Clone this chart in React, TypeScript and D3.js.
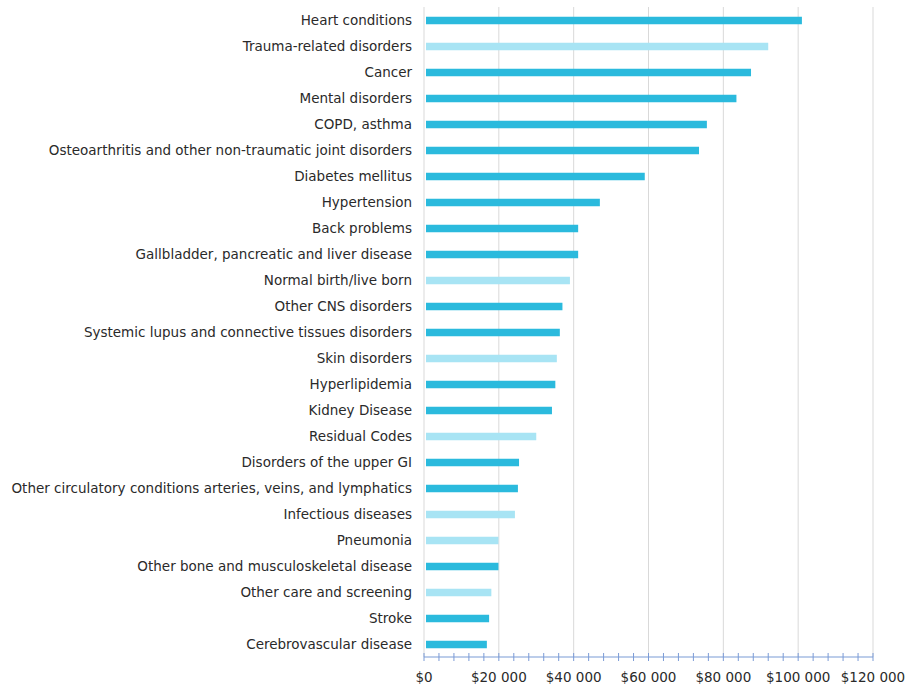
import React from "react";
import * as d3 from "d3";

const categories = [
  "Heart conditions",
  "Trauma-related disorders",
  "Cancer",
  "Mental disorders",
  "COPD, asthma",
  "Osteoarthritis and other non-traumatic joint disorders",
  "Diabetes mellitus",
  "Hypertension",
  "Back problems",
  "Gallbladder, pancreatic and liver disease",
  "Normal birth/live born",
  "Other CNS disorders",
  "Systemic lupus and connective tissues disorders",
  "Skin disorders",
  "Hyperlipidemia ",
  "Kidney Disease",
  "Residual Codes",
  "Disorders of the upper GI",
  "Other circulatory conditions arteries, veins, and lymphatics",
  "Infectious diseases",
  "Pneumonia",
  "Other bone and musculoskeletal disease",
  "Other care and screening",
  "Stroke",
  "Cerebrovascular disease",
];

const values = [
  101000, 92000, 87400, 83500, 75600, 73500, 59000, 47000, 41200, 41200,
  39000, 37000, 36300, 35500, 35100, 34200, 30000, 25400, 25100, 24300,
  19900, 19900, 18000, 17400, 16800,
];

const highlighted = [
  "Trauma-related disorders",
  "Normal birth/live born",
  "Skin disorders",
  "Residual Codes",
  "Infectious diseases",
  "Pneumonia",
  "Other care and screening",
];

const tickValues = [0, 20000, 40000, 60000, 80000, 100000, 120000];

const W = 907;
const H = 686;
const left = 424;
const right = 873;
const top = 7;
const bottom = 657;

export default function App() {
  const x = d3.scaleLinear().domain([0, 120000]).range([left, right]);
  const y = d3.scaleBand<string>().domain(categories).range([top, bottom]);
  const barH = 7.5;
  const minor = d3.range(0, 120001, 4000);
  const fmt = (v: number) => "$" + d3.format(",")(v).replace(/,/g, " ");
  const font = "DejaVu Sans, Verdana, sans-serif";

  return (
    <svg
      width={W}
      height={H}
      style={{ position: "absolute", left: 0, top: 0, background: "#fff" }}
    >
      {tickValues.map((t) => (
        <line
          key={"g" + t}
          x1={x(t)}
          x2={x(t)}
          y1={top}
          y2={bottom}
          stroke="#d9d9d9"
          strokeWidth={1}
        />
      ))}
      {categories.map((c, i) => {
        const cy = (y(c) ?? 0) + y.bandwidth() / 2;
        const light = highlighted.includes(c);
        return (
          <g key={c}>
            <rect
              x={x(0) + 2}
              y={cy - barH / 2 + 0.5}
              width={x(values[i]) - x(0) - 2}
              height={barH}
              fill={light ? "#a8e4f4" : "#2bbadd"}
            />
            <text
              x={412}
              y={cy}
              dy="0.35em"
              textAnchor="end"
              fontFamily={font}
              fontSize={13.5}
              fill="#2a2a2a"
            >
              {c}
            </text>
          </g>
        );
      })}
      <line x1={left} x2={right} y1={bottom} y2={bottom} stroke="#7b9bd6" strokeWidth={1.2} />
      {minor.map((t) => (
        <line
          key={"m" + t}
          x1={x(t)}
          x2={x(t)}
          y1={bottom - 4}
          y2={bottom + 4}
          stroke="#7b9bd6"
          strokeWidth={1}
        />
      ))}
      {tickValues.map((t) => (
        <text
          key={"t" + t}
          x={x(t)}
          y={677}
          dy="0.35em"
          textAnchor="middle"
          fontFamily={font}
          fontSize={13.5}
          fill="#2a2a2a"
        >
          {fmt(t)}
        </text>
      ))}
    </svg>
  );
}
